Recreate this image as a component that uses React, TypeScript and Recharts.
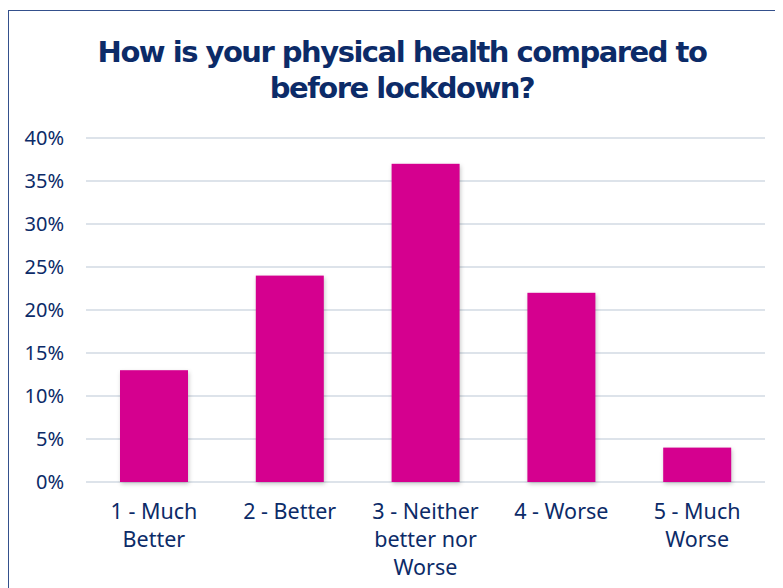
import React from "react";
import { BarChart, Bar, XAxis, YAxis, CartesianGrid, Text } from "recharts";

const categories = [
  "1 - Much Better",
  "2 - Better",
  "3 - Neither better nor Worse",
  "4 - Worse",
  "5 - Much Worse",
];
const values = [13, 24, 37, 22, 4];
const yTicks = [0, 5, 10, 15, 20, 25, 30, 35, 40];
const title = ["How is your physical health compared to", "before lockdown?"];

const data = categories.map((c, i) => ({ name: c, value: values[i] }));

const NAVY = "#0c2b68";
const FONT = "'Noto Sans', sans-serif";
const TITLE_FONT = "'DejaVu Sans', sans-serif";

const XTick = (props: any) => {
  const { x, y, payload } = props;
  return (
    <Text
      x={x}
      y={y + 21.5}
      width={110}
      textAnchor="middle"
      verticalAnchor="start"
      lineHeight={28}
      fill={NAVY}
      fontSize={21.5}
      fontFamily={FONT}
      style={{ fontSize: 21.5, fontFamily: FONT }}
    >
      {payload.value}
    </Text>
  );
};

const BarShape = (props: any) => {
  const { x, y, width, height, fill } = props;
  return (
    <rect
      x={x}
      y={y}
      width={width}
      height={height}
      fill={fill}
      style={{ filter: "drop-shadow(1px 2px 2px rgba(0,0,0,0.22))" }}
    />
  );
};

export default function App() {
  return (
    <div
      style={{
        position: "relative",
        marginTop: 2,
        width: 774,
        height: 577,
        borderTop: "1px solid #34508c",
        borderLeft: "1px solid #34508c",
        fontFamily: FONT,
      }}
    >
      {title.map((t, i) => (
        <div
          key={t}
          style={{
            position: "absolute",
            left: 0,
            top: 25.5 + i * 36,
            width: 786,
            textAlign: "center",
            color: NAVY,
            fontFamily: TITLE_FONT,
            fontWeight: 700,
            fontSize: 29,
            letterSpacing: -1.5,
            lineHeight: "30px",
          }}
        >
          {t}
        </div>
      ))}
      <BarChart
        width={774}
        height={577}
        data={data}
        margin={{ top: 127, right: 18, bottom: 0, left: 0 }}
      >
        <CartesianGrid vertical={false} stroke="#dde3ea" strokeWidth={2} />
        <XAxis
          dataKey="name"
          axisLine={false}
          tickLine={false}
          tickSize={0}
          tickMargin={0}
          height={106}
          interval={0}
          tick={<XTick />}
        />
        <YAxis
          width={77}
          domain={[0, 40]}
          ticks={yTicks}
          axisLine={false}
          tickLine={false}
          tickSize={0}
          tickMargin={22}
          tickFormatter={(v: number) => `${v}%`}
          tick={{ fill: NAVY, fontSize: 20, fontFamily: FONT }}
        />
        <Bar
          dataKey="value"
          fill="#d5008f"
          barSize={68}
          isAnimationActive={false}
          shape={<BarShape />}
        />
      </BarChart>
    </div>
  );
}
